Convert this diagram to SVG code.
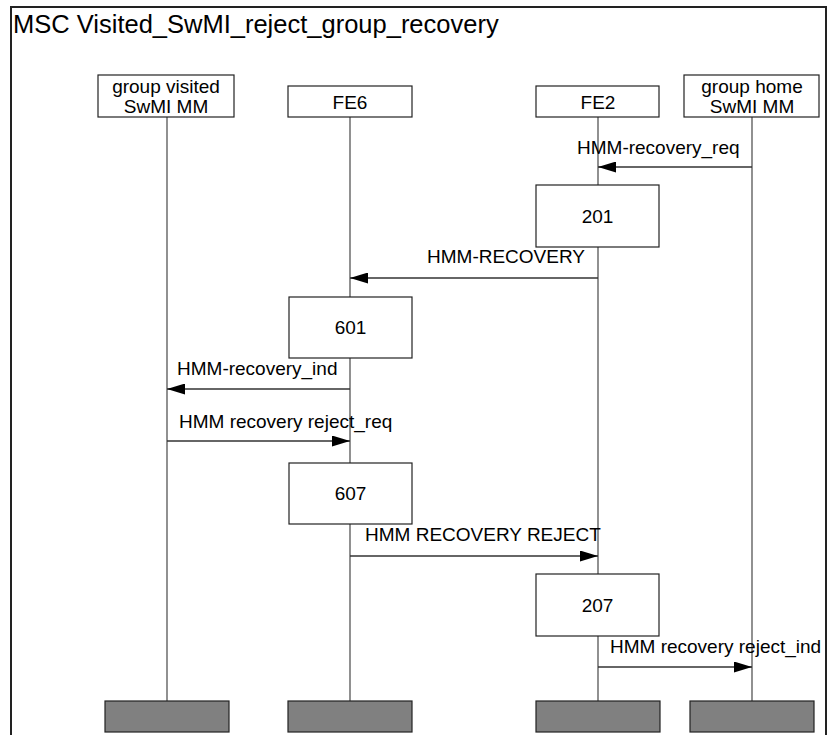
<svg xmlns="http://www.w3.org/2000/svg" width="829" height="735" viewBox="0 0 829 735">
<defs>
<style>
text{font-family:"Liberation Sans",Arial,sans-serif;fill:#000;}
.t{font-size:25.5px;}
.l{font-size:19px;}
.c{text-anchor:middle;}
.box{fill:#fff;stroke:#222;stroke-width:1.2;}
.end{fill:#808080;stroke:#222;stroke-width:1.2;}
.life{stroke:#555;stroke-width:1.3;fill:none;}
.msg{stroke:#333;stroke-width:1.3;fill:none;marker-end:url(#ah);}
</style>
<marker id="ah" viewBox="0 0 18 11" refX="18" refY="5.5" markerWidth="18" markerHeight="11" markerUnits="userSpaceOnUse" orient="auto">
<path d="M0,0 L18,5.5 L0,11 z" fill="#000"/>
</marker>
</defs>
<rect width="829" height="735" fill="#fff"/>
<g id="frame">
<rect x="11" y="7" width="815" height="740" fill="none" stroke="#222" stroke-width="2"/>
<text class="t" x="13" y="33">MSC Visited_SwMI_reject_group_recovery</text>
</g>
<g id="lifelines">
<line class="life" x1="167" y1="117" x2="167" y2="701"/>
<line class="life" x1="350" y1="117" x2="350" y2="701"/>
<line class="life" x1="598" y1="117" x2="598" y2="701"/>
<line class="life" x1="752" y1="117" x2="752" y2="701"/>
</g>
<g id="inst_visited">
<rect class="box" x="98" y="75" width="136" height="42"/>
<text class="l c" x="166" y="93">group visited</text>
<text class="l c" x="166" y="113">SwMI MM</text>
</g>
<g id="inst_fe6">
<rect class="box" x="288" y="86" width="124" height="31"/>
<text class="l c" x="350" y="109">FE6</text>
</g>
<g id="inst_fe2">
<rect class="box" x="536" y="86" width="123" height="31"/>
<text class="l c" x="598" y="109">FE2</text>
</g>
<g id="inst_home">
<rect class="box" x="684" y="75" width="135" height="42"/>
<text class="l c" x="752" y="93">group home</text>
<text class="l c" x="752" y="113">SwMI MM</text>
</g>
<g id="connectors">
<line class="msg" x1="752" y1="167" x2="598" y2="167"/>
<text class="l" x="577" y="154">HMM-recovery_req</text>
<line class="msg" x1="598" y1="278" x2="350" y2="278"/>
<text class="l" x="427" y="263">HMM-RECOVERY</text>
<line class="msg" x1="350" y1="389" x2="167" y2="389"/>
<text class="l" x="177" y="375">HMM-recovery_ind</text>
<line class="msg" x1="167" y1="441" x2="350" y2="441"/>
<text class="l" x="179" y="428">HMM recovery reject_req</text>
<line class="msg" x1="350" y1="556" x2="598" y2="556"/>
<text class="l" x="365" y="541">HMM RECOVERY REJECT</text>
<line class="msg" x1="598" y1="667" x2="752" y2="667"/>
<text class="l" x="610" y="653">HMM recovery reject_ind</text>
</g>
<g id="act_201">
<rect class="box" x="536" y="185" width="123" height="62"/>
<text class="l c" x="597.5" y="223">201</text>
</g>
<g id="act_601">
<rect class="box" x="289" y="297" width="123" height="61"/>
<text class="l c" x="350.5" y="334">601</text>
</g>
<g id="act_607">
<rect class="box" x="289" y="463" width="123" height="61"/>
<text class="l c" x="350.5" y="500">607</text>
</g>
<g id="act_207">
<rect class="box" x="536" y="574" width="123" height="62"/>
<text class="l c" x="597.5" y="612">207</text>
</g>
<g id="ends">
<rect class="end" x="105" y="701" width="124" height="31"/>
<rect class="end" x="288" y="701" width="124" height="31"/>
<rect class="end" x="536" y="701" width="124" height="31"/>
<rect class="end" x="690" y="701" width="124" height="31"/>
</g>
</svg>
